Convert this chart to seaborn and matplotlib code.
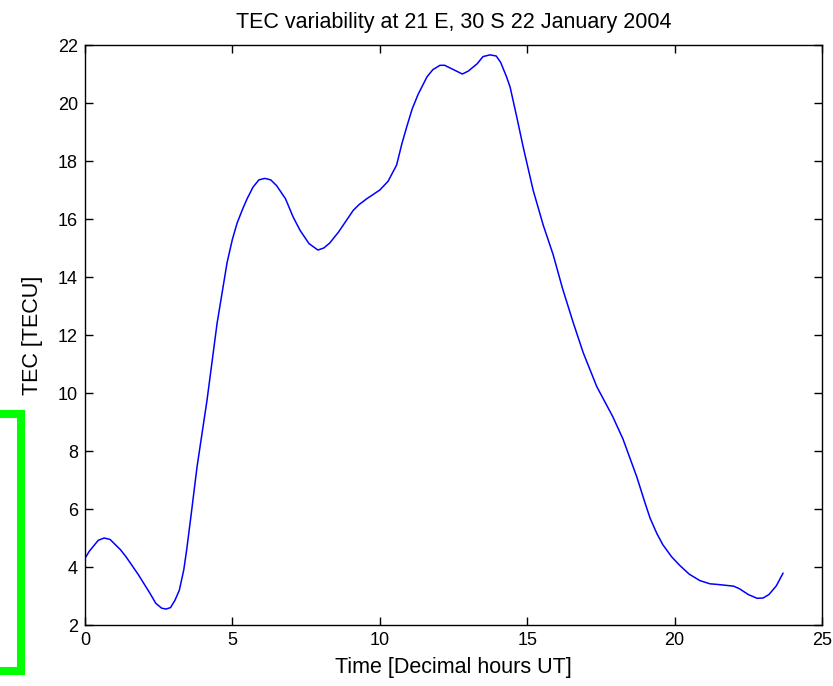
import matplotlib
matplotlib.use("Agg")
import matplotlib.pyplot as plt
from matplotlib.patches import Rectangle
import pandas as pd
import seaborn as sns

# TEC over the day (UT decimal hours, TECU)
hours = [0.0, 0.15, 0.45, 0.65, 0.85, 1.2, 1.4, 1.8, 2.2, 2.4, 2.6, 2.75, 2.9,
         3.05, 3.2, 3.35, 3.45, 3.6, 3.8, 4.14, 4.48, 4.82, 5.0, 5.16, 5.35,
         5.5, 5.7, 5.9, 6.1, 6.3, 6.5, 6.8, 7.06, 7.3, 7.6, 7.9, 8.1, 8.3,
         8.6, 9.1, 9.3, 9.56, 10.0, 10.28, 10.57, 10.75, 10.92, 11.1, 11.3,
         11.6, 11.8, 12.04, 12.2, 12.5, 12.8, 13.0, 13.3, 13.5, 13.74, 13.95,
         14.1, 14.3, 14.42, 14.65, 14.86, 15.2, 15.54, 15.88, 16.2, 16.56,
         16.9, 17.36, 17.9, 18.25, 18.72, 19.0, 19.17, 19.4, 19.6, 19.9,
         20.18, 20.5, 20.86, 21.2, 21.44, 22.0, 22.2, 22.5, 22.8, 23.0, 23.2,
         23.45, 23.68]
tec = [4.3, 4.55, 4.92, 5.0, 4.95, 4.6, 4.34, 3.75, 3.1, 2.75, 2.58, 2.55, 2.6,
       2.85, 3.2, 3.9, 4.6, 5.8, 7.45, 9.76, 12.4, 14.5, 15.3, 15.86, 16.35,
       16.7, 17.1, 17.35, 17.4, 17.35, 17.15, 16.7, 16.07, 15.6, 15.15, 14.93, 15.0, 15.17,
       15.55, 16.3, 16.5, 16.7, 17.0, 17.3, 17.86, 18.6, 19.2, 19.8, 20.3,
       20.9, 21.15, 21.3, 21.3, 21.15, 21.0, 21.1, 21.35, 21.6, 21.66, 21.62,
       21.4, 20.9, 20.55, 19.5, 18.5, 17.0, 15.8, 14.77, 13.6, 12.43,
       11.39, 10.22, 9.19, 8.41, 7.1, 6.2, 5.68, 5.15, 4.77, 4.35,
       4.05, 3.75, 3.53, 3.42, 3.4, 3.34, 3.25, 3.05, 2.92, 2.93, 3.05,
       3.35, 3.79]

x_ticks = [0, 5, 10, 15, 20, 25]
y_ticks = [2, 4, 6, 8, 10, 12, 14, 16, 18, 20, 22]

sns.set_style("white")
plt.rcParams["font.family"] = ["Liberation Sans", "DejaVu Sans"]

W, H = 833, 686
fig = plt.figure(figsize=(W / 100, H / 100), dpi=100)
ax = fig.add_axes([85 / W, 1 - 625 / H, (822 - 85) / W, (625 - 45) / H])

df = pd.DataFrame({"hours": hours, "tec": tec})
sns.lineplot(data=df, x="hours", y="tec", ax=ax, color="#0000ff",
             linewidth=1.1, sort=False)

ax.set_xlim(0, 25)
ax.set_ylim(2, 22)
ax.set_xticks(x_ticks)
ax.set_yticks(y_ticks)
ax.tick_params(direction="in", length=6, width=1, color="black",
               labelsize=13, labelcolor="black", pad=5,
               top=True, right=True, bottom=True, left=True)
for s in ax.spines.values():
    s.set_color("black")
    s.set_linewidth(1.0)
    s.set_visible(True)

ax.set_title("TEC variability at 21 E, 30 S 22 January 2004", fontsize=15.5,
             color="black", pad=12)
ax.set_xlabel("Time [Decimal hours UT]", fontsize=15.5, color="black", labelpad=6)
ax.set_ylabel("TEC [TECU]", fontsize=15.5, color="black", labelpad=11)

# green marker frame at the left edge of the figure
fig.patches.append(Rectangle((-20 / W, 15 / H), 41 / W, 257.5 / H,
                             transform=fig.transFigure, fill=False,
                             edgecolor="#00ff00", linewidth=5.8, clip_on=False))

fig.savefig("out.png", dpi=100, facecolor="white")
